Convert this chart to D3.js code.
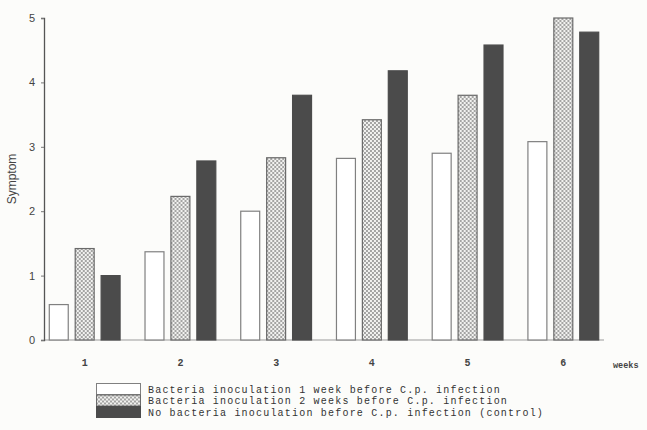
<!DOCTYPE html>
<html>
<head>
<meta charset="utf-8">
<script src="https://cdn.jsdelivr.net/npm/d3@7"></script>
<style>
  html, body { margin: 0; padding: 0; background: #fcfcfa; }
  svg { display: block; }
</style>
</head>
<body>
<div id="chart"></div>
<script>
// weeks after infection
const weeks = ['1', '2', '3', '4', '5', '6'];
const seriesNames = [
  'Bacteria inoculation 1 week before C.p. infection',
  'Bacteria inoculation 2 weeks before C.p. infection',
  'No bacteria inoculation before C.p. infection (control)'
];
const oneWeekBefore = [0.55, 1.37, 2.0, 2.82, 2.9, 3.08];
const twoWeeksBefore = [1.42, 2.23, 2.83, 3.42, 3.8, 5.0];
const control = [1.0, 2.78, 3.8, 4.18, 4.58, 4.78];
const yTicks = [0, 1, 2, 3, 4, 5];

const width = 647;
const height = 430;
const margin = { top: 18, left: 44, bottom: 90 };
const plotBottom = height - margin.bottom;

const svg = d3.select('#chart').append('svg')
    .attr('width', width)
    .attr('height', height);

const defs = svg.append('defs');
const dots = defs.append('pattern')
    .attr('id', 'dots')
    .attr('patternUnits', 'userSpaceOnUse')
    .attr('width', 4)
    .attr('height', 4);
dots.append('rect').attr('width', 4).attr('height', 4).attr('fill', '#f2f2f0');
dots.append('circle').attr('cx', 1).attr('cy', 1).attr('r', 1).attr('fill', '#8a8a8a');
dots.append('circle').attr('cx', 3).attr('cy', 3).attr('r', 1).attr('fill', '#8a8a8a');

const fills = ['#ffffff', 'url(#dots)', '#4b4b4b'];
const strokes = ['#808080', '#6a6a6a', '#4b4b4b'];

const data = weeks.map((w, i) => ({
  week: w,
  values: [oneWeekBefore[i], twoWeeksBefore[i], control[i]]
}));

const x = d3.scaleBand()
    .domain(weeks)
    .range([margin.left, 604])
    .paddingInner(0.25)
    .paddingOuter(0.05);

const xSub = d3.scaleBand()
    .domain([0, 1, 2])
    .range([0, x.bandwidth()])
    .paddingInner(0.23);

const y = d3.scaleLinear()
    .domain([0, 5])
    .range([plotBottom, margin.top]);

// baseline
svg.append('line')
    .attr('x1', margin.left).attr('x2', 604)
    .attr('y1', y(0)).attr('y2', y(0))
    .attr('stroke', '#9a9a9a')
    .attr('stroke-width', 1);

// bars
const groups = svg.selectAll('.group')
    .data(data)
  .enter().append('g')
    .attr('class', 'group')
    .attr('transform', (d) => `translate(${x(d.week)},0)`);

groups.selectAll('rect')
    .data((d) => d.values)
  .enter().append('rect')
    .attr('x', (d, i) => xSub(i) + 0.5)
    .attr('y', (d) => y(d))
    .attr('width', xSub.bandwidth() - 1)
    .attr('height', (d) => y(0) - y(d))
    .attr('fill', (d, i) => fills[i])
    .attr('stroke', (d, i) => strokes[i])
    .attr('stroke-width', 1.2);

// y axis
const yAxis = d3.axisLeft(y)
    .tickValues(yTicks)
    .tickFormat(d3.format('d'))
    .tickSize(3)
    .tickPadding(6);

const yG = svg.append('g')
    .attr('transform', `translate(${margin.left},0)`)
    .call(yAxis);
yG.select('.domain').attr('stroke', '#555').attr('stroke-width', 1.3);
yG.selectAll('.tick line').attr('stroke', '#777');
yG.selectAll('.tick text')
    .attr('fill', '#444')
    .style('font-family', 'Liberation Sans, Arial, sans-serif')
    .style('font-size', '11px');

svg.append('text')
    .attr('transform', `translate(16,${(margin.top + plotBottom) / 2}) rotate(-90)`)
    .attr('text-anchor', 'middle')
    .attr('fill', '#444')
    .style('font-family', 'Liberation Sans, Arial, sans-serif')
    .style('font-size', '12px')
    .text('Symptom');

// x labels
const xAxis = d3.axisBottom(x).tickSize(0).tickPadding(19);
const xG = svg.append('g')
    .attr('transform', `translate(0,${plotBottom})`)
    .call(xAxis);
xG.select('.domain').remove();
xG.selectAll('.tick text')
    .attr('fill', '#444')
    .style('font-family', 'Liberation Mono, monospace')
    .style('font-size', '10px')
    .style('font-weight', 'bold');

svg.append('text')
    .attr('x', 613)
    .attr('y', plotBottom + 28)
    .attr('fill', '#444')
    .style('font-family', 'Liberation Mono, monospace')
    .style('font-size', '8.5px')
    .style('font-weight', 'bold')
    .text('weeks');

// legend
const legend = svg.append('g')
    .attr('transform', 'translate(96,383)');

const items = legend.selectAll('.item')
    .data(seriesNames)
  .enter().append('g')
    .attr('class', 'item')
    .attr('transform', (d, i) => `translate(0,${i * 11.5})`);

items.append('rect')
    .attr('x', 0.5)
    .attr('y', 0.5)
    .attr('width', 44)
    .attr('height', 11)
    .attr('fill', (d, i) => fills[i])
    .attr('stroke', (d, i) => strokes[i])
    .attr('stroke-width', 1);

items.append('text')
    .attr('x', 52)
    .attr('y', 9.5)
    .attr('fill', '#333')
    .style('font-family', 'Liberation Mono, monospace')
    .style('font-size', '10px')
    .style('letter-spacing', '1.2px')
    .text((d) => d);
</script>
</body>
</html>
